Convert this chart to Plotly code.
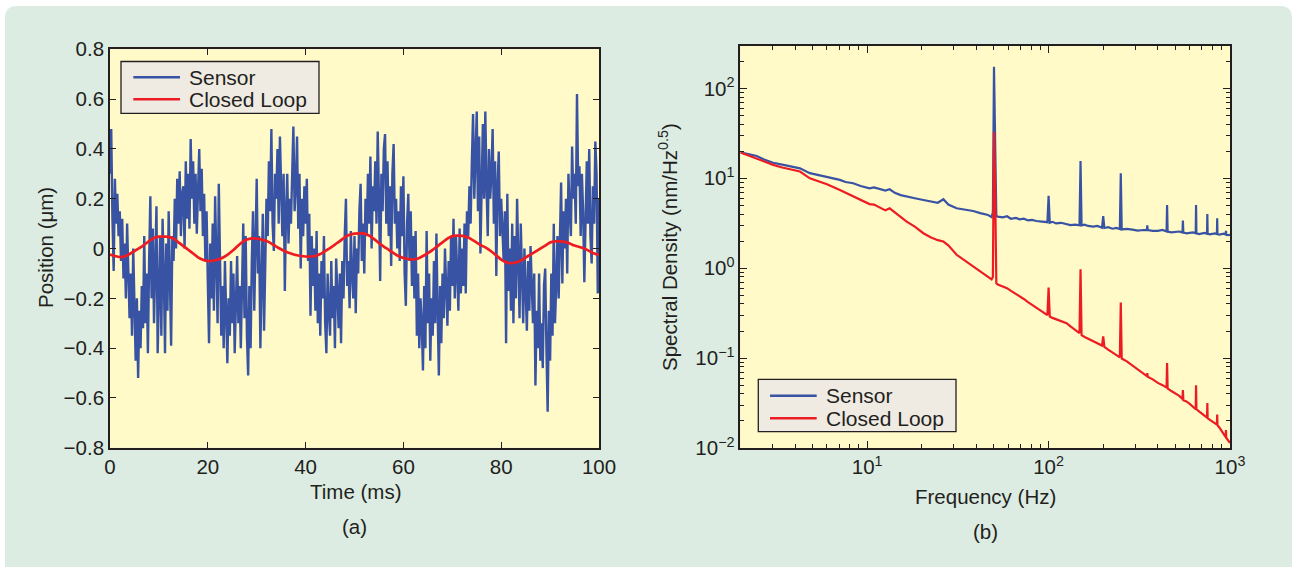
import plotly.graph_objects as go

# ---------------- data: panel (a) time series ----------------
SAMPLE_MS = 0.25
sensor_pos = [
    0.30, 0.48, 0.12, -0.09,   0.28, 0.10, 0.22, 0.05,   0.15, -0.05, 0.12, -0.12,
    0.02, -0.20, 0.10, -0.15,  -0.28, -0.10, -0.35, 0.00, -0.30, -0.45, -0.20, -0.52,
    -0.25, -0.40, -0.15, -0.32, 0.05, -0.30, -0.10, -0.42, -0.05, 0.21, -0.20, 0.08,
    -0.30, -0.05, 0.17, -0.42, -0.15, 0.05, -0.35, 0.12, -0.10, -0.42, 0.02, -0.25,
    0.15, -0.15, -0.39, 0.05,  -0.05, 0.20, 0.00, 0.28,   0.10, 0.31, 0.05, 0.22,
    0.25, 0.00, 0.35, 0.12,    0.30, 0.08, 0.44, 0.20,   0.35, 0.10, 0.30, 0.06,
    0.25, 0.40, 0.15, 0.32,    0.05, 0.22, -0.05, 0.15,  -0.13, -0.38, 0.02, -0.20,
    0.10, -0.25, 0.21, -0.10,  -0.30, 0.26, -0.05, -0.35, -0.15, -0.40, -0.05, -0.25,
    -0.46, -0.20, -0.35, -0.05, -0.30, -0.10, -0.42, -0.22, -0.03, -0.30, -0.15, -0.40,
    -0.20, 0.10, -0.28, 0.05,  -0.35, -0.51, -0.15, -0.40, -0.05, 0.15, -0.25, 0.05,
    0.28, -0.10, 0.05, -0.40,  -0.15, 0.14, -0.33, 0.00,  0.20, 0.05, 0.35, 0.15,
    0.48, 0.10, -0.01, 0.30,   0.20, 0.40, 0.10, 0.45,   0.25, 0.05, 0.30, -0.17,
    0.15, 0.30, 0.02, 0.20,    0.10, 0.35, 0.49, 0.15,   0.25, 0.45, 0.08, 0.30,
    -0.08, 0.20, 0.05, 0.25,   0.10, 0.28, -0.05, 0.14,  -0.27, 0.05, -0.15, 0.00,
    -0.25, 0.07, -0.30, -0.10, -0.35, -0.05, -0.20, 0.05, -0.30, -0.42, -0.10, -0.25,
    -0.35, -0.05, -0.28, -0.15, -0.40, -0.04, -0.22, -0.32, -0.10, -0.38, -0.05, -0.20,
    0.05, 0.20, -0.15, -0.05,  -0.24, 0.07, -0.10, -0.20, 0.05, -0.26, 0.00, -0.10,
    0.15, 0.26, -0.05, 0.10,   -0.10, 0.20, 0.05, 0.30,  0.10, 0.37, 0.00, 0.25,
    0.15, 0.35, 0.10, 0.47,    0.20, -0.13, 0.30, 0.15,  0.40, 0.46, 0.10, 0.35,
    0.05, 0.25, -0.07, 0.30,   0.42, 0.10, 0.20, 0.00,   0.15, -0.05, 0.25, 0.05,
    0.29, -0.10, -0.23, 0.10,  0.22, -0.05, 0.15, -0.15, 0.05, -0.20, 0.07, -0.35,
    -0.10, -0.40, -0.20, -0.30, -0.49, -0.15, -0.40, 0.07, -0.30, -0.10, -0.45, -0.20,
    -0.35, -0.05, -0.30, 0.06, -0.25, -0.51, -0.15, -0.38, -0.10, -0.28, 0.00, -0.20,
    -0.31, -0.05, -0.25, 0.05, -0.15, 0.12, -0.20, 0.05,  -0.10, -0.25, 0.08, -0.18,
    0.00, -0.15, 0.10, -0.18,  0.15, 0.05, 0.25, 0.10,   0.35, 0.54, 0.20, 0.40,
    0.55, 0.15, 0.45, -0.02,   0.30, 0.50, 0.20, 0.55,   0.25, 0.05, 0.40, 0.20,
    0.30, 0.48, 0.10, 0.35,    -0.11, 0.25, 0.39, 0.05,  0.20, 0.10, -0.05, 0.15,
    -0.38, 0.22, -0.17, 0.00,  -0.25, 0.10, -0.30, 0.05, -0.20, 0.20, -0.10, -0.28,
    0.10, -0.15, -0.30, 0.00,  -0.20, -0.33, -0.05, -0.25, 0.01, -0.15, -0.30, -0.10,
    -0.55, -0.25, -0.40, -0.10, -0.45, -0.30, -0.48, -0.15, -0.08, -0.40, -0.655, -0.25,
    -0.45, -0.10, -0.35, 0.10, -0.30, -0.15, 0.05, -0.20,  0.10, 0.265, -0.14, 0.15,
    0.00, 0.20, -0.10, 0.30,   0.15, 0.05, 0.41, 0.20,   0.30, 0.10, 0.62, 0.25,
    0.33, 0.05, 0.30, 0.15,    -0.135, 0.20, 0.35, 0.10, 0.40, 0.05, -0.06, 0.25,
    0.10, 0.43, 0.30, -0.18,   0.20,
]
closed_time_ms = list(range(0, 101))
closed_pos = [
    -0.024, -0.030, -0.034, -0.032, -0.022, -0.010, 0.002, 0.015, 0.030, 0.042,
    0.048, 0.048, 0.047, 0.040, 0.025, 0.010, -0.005, -0.020, -0.035, -0.045,
    -0.050, -0.049, -0.045, -0.037, -0.025, -0.010, 0.008, 0.025, 0.036, 0.041,
    0.040, 0.036, 0.030, 0.020, 0.008, -0.003, -0.013, -0.020, -0.026, -0.030,
    -0.032, -0.032, -0.030, -0.022, -0.010, 0.002, 0.016, 0.030, 0.045, 0.055,
    0.060, 0.061, 0.060, 0.052, 0.038, 0.022, 0.008, -0.005, -0.018, -0.030,
    -0.038, -0.042, -0.044, -0.040, -0.030, -0.018, -0.005, 0.010, 0.025, 0.040,
    0.050, 0.052, 0.051, 0.046, 0.036, 0.024, 0.012, 0.002, -0.012, -0.028,
    -0.044, -0.055, -0.059, -0.056, -0.048, -0.036, -0.024, -0.012, 0.000, 0.012,
    0.024, 0.029, 0.029, 0.027, 0.020, 0.012, 0.006, 0.000, -0.010, -0.020,
    -0.025,
]
sensor_time_ms = [i * SAMPLE_MS for i in range(len(sensor_pos))]

# ---------------- data: panel (b) spectral density ----------------
freq_hz = [
    2.0, 2.2, 2.46, 2.7, 3.03, 3.4, 3.8, 4.26, 4.83, 5.4, 6.0, 7.07, 7.6, 8.37, 9.2,
    10.3, 10.9, 11.8, 12.6, 13.3, 14.2, 15.3, 16.5, 18.3, 20.4, 22.5, 24.5, 26.3, 28.0,
    31.1, 34.5, 38.4, 42.0, 46.4, 48.5, 49.3, 50.0, 50.6, 51.5, 52.5, 56.0, 59.0, 62.0,
    66.0, 69.3, 73.0, 77.0, 81.0, 85.7, 92.0, 98.5, 100.0, 101.5, 105.0, 110.0, 117.0,
    125.6, 132.0, 140.0, 148.0, 150.0, 152.0, 158.0, 165.0, 176.0, 186.0, 197.0, 200.0,
    203.0, 213.0, 225.0, 236.0, 247.0, 250.0, 253.0, 270.0, 290.0, 310.0, 332.0, 348.0,
    350.0, 352.0, 375.0, 400.0, 425.0, 447.0, 450.0, 453.0, 475.0, 500.0, 525.0, 547.0,
    550.0, 553.0, 575.0, 600.0, 625.0, 647.0, 650.0, 653.0, 675.0, 700.0, 725.0, 747.0,
    750.0, 753.0, 775.0, 800.0, 825.0, 847.0, 850.0, 853.0, 875.0, 900.0, 925.0, 947.0,
    950.0, 953.0, 975.0, 1000.0,
]
sensor_psd = [
    19.4, 18.5, 17.7, 16.2, 14.9, 14.2, 13.5, 12.9, 11.4, 10.9, 10.4, 9.6, 9.1, 8.8, 8.2,
    7.74, 7.9, 7.5, 7.3, 7.55, 6.9, 6.5, 6.25, 6.0, 5.74, 5.5, 5.35, 5.85, 5.1,
    4.64, 4.5, 4.33, 4.1, 3.91, 3.7, 4.2, 174.0, 30.0, 3.8, 3.75, 3.68, 3.78, 3.55,
    3.62, 3.5, 3.55, 3.4, 3.45, 3.35, 3.3, 3.25, 6.4, 3.2, 3.28, 3.15, 3.2,
    3.1, 3.02, 3.05, 3.0, 15.6, 3.0, 3.05, 2.95, 2.9, 2.95, 2.82, 3.8,
    2.8, 2.86, 2.75, 2.8, 2.72, 11.4, 2.7, 2.74, 2.68, 2.62, 2.66, 2.65,
    3.0, 2.65, 2.6, 2.6, 2.66, 2.56, 5.05, 2.55, 2.5, 2.52, 2.56, 2.5,
    3.4, 2.5, 2.44, 2.47, 2.5, 2.45, 5.05, 2.45, 2.4, 2.43, 2.47, 2.42,
    4.0, 2.42, 2.38, 2.4, 2.44, 2.4, 3.6, 2.4, 2.36, 2.38, 2.42, 2.37,
    2.6, 2.37, 2.33, 2.35,
]
closed_psd = [
    19.4, 18.0, 16.7, 15.3, 14.1, 13.2, 12.6, 11.9, 10.0, 9.3, 8.6, 7.4, 6.9, 6.25, 5.8,
    5.17, 5.1, 4.75, 4.4, 4.64, 4.2, 3.7, 3.3, 2.9, 2.45, 2.2, 2.05, 1.98, 1.8,
    1.41, 1.22, 1.04, 0.93, 0.81, 0.75, 0.8, 33.0, 12.0, 0.68, 0.66, 0.625, 0.6, 0.56,
    0.52, 0.483, 0.455, 0.42, 0.39, 0.36, 0.33, 0.30, 0.61, 0.29, 0.28, 0.27, 0.255,
    0.245, 0.225, 0.205, 0.19, 0.975, 0.18, 0.172, 0.165, 0.153, 0.146, 0.138, 0.174,
    0.133, 0.124, 0.115, 0.108, 0.102, 0.415, 0.099, 0.092, 0.083, 0.075, 0.068, 0.063,
    0.068, 0.062, 0.058, 0.053, 0.05, 0.047, 0.088, 0.046, 0.043, 0.040, 0.038, 0.035,
    0.044, 0.034, 0.033, 0.031, 0.029, 0.027, 0.050, 0.027, 0.0255, 0.024, 0.023, 0.0218,
    0.0316, 0.0214, 0.0205, 0.0198, 0.019, 0.0182, 0.0235, 0.018, 0.0168, 0.0155, 0.0143, 0.0132,
    0.0158, 0.013, 0.0122, 0.0114,
]

# tick labels
pos_ticks = [0.8, 0.6, 0.4, 0.2, 0, -0.2, -0.4, -0.6, -0.8]
time_ticks = [0, 20, 40, 60, 80, 100]
psd_ticks = [0.01, 0.1, 1, 10, 100]
psd_ticktext = ["10<sup>−2</sup>", "10<sup>−1</sup>", "10<sup>0</sup>", "10<sup>1</sup>", "10<sup>2</sup>"]
freq_ticks = [10, 100, 1000]
freq_ticktext = ["10<sup>1</sup>", "10<sup>2</sup>", "10<sup>3</sup>"]
series_names = ["Sensor", "Closed Loop"]

# ---------------- styling ----------------
W, H = 1297, 567
BLUE = "#3953a4"
RED = "#ed1c24"
TXT = "#231f20"
GREEN = "#ddece2"
YELLOW = "#fffac7"
LEGBG = "#efebe2"
FONT = "Liberation Sans, Arial, sans-serif"
FS = 20.5

def px_x(p):
    return p / W

def px_y(p):
    return 1 - p / H

fig = go.Figure()
fig.add_trace(go.Scatter(x=sensor_time_ms, y=sensor_pos, mode="lines", name=series_names[0],
                         line=dict(color=BLUE, width=2.4), xaxis="x", yaxis="y", showlegend=False))
fig.add_trace(go.Scatter(x=closed_time_ms, y=closed_pos, mode="lines", name=series_names[1],
                         line=dict(color=RED, width=2.7, shape="spline"), xaxis="x", yaxis="y", showlegend=False))
fig.add_trace(go.Scatter(x=freq_hz, y=sensor_psd, mode="lines", name=series_names[0],
                         line=dict(color=BLUE, width=2.2), xaxis="x2", yaxis="y2", showlegend=False))
fig.add_trace(go.Scatter(x=freq_hz, y=closed_psd, mode="lines", name=series_names[1],
                         line=dict(color=RED, width=2.2), xaxis="x2", yaxis="y2", showlegend=False))

axis_common = dict(showline=True, linecolor=TXT, linewidth=1.6, mirror="allticks",
                   ticks="inside", tickcolor=TXT, tickwidth=1.2, showgrid=False, zeroline=False,
                   automargin=False, tickfont=dict(family=FONT, size=FS, color=TXT))

xa_dom = [px_x(110), px_x(599)]
ya_dom = [px_y(447.8), px_y(49.3)]
xb_dom = [px_x(740.4), px_x(1230)]
yb_dom = [px_y(448), px_y(45.7)]

minor_x = [3, 4, 5, 6, 7, 8, 9, 20, 30, 40, 50, 60, 70, 80, 90, 200, 300, 400, 500, 600, 700, 800, 900]
minor_y = [0.02, 0.03, 0.04, 0.05, 0.06, 0.07, 0.08, 0.09, 0.2, 0.3, 0.4, 0.5, 0.6, 0.7, 0.8, 0.9,
           2, 3, 4, 5, 6, 7, 8, 9, 20, 30, 40, 50, 60, 70, 80, 90, 200]

fig.update_layout(
    width=W, height=H, margin=dict(l=0, r=0, t=0, b=0, pad=0, autoexpand=False),
    paper_bgcolor="white", plot_bgcolor="rgba(0,0,0,0)",
    font=dict(family=FONT, size=FS, color=TXT),
    showlegend=False,
    xaxis=dict(domain=xa_dom, range=[0, 100], tickvals=time_ticks, ticklen=6,
               anchor="y", **axis_common),
    yaxis=dict(domain=ya_dom, range=[-0.8, 0.8], tickvals=pos_ticks, ticklen=6,
               anchor="x", **axis_common),
    xaxis2=dict(domain=xb_dom, type="log", range=[0.30103, 3.0], tickvals=freq_ticks,
                ticktext=freq_ticktext, ticklen=7, anchor="y2",
                minor=dict(tickvals=minor_x, ticks="inside", ticklen=4, tickcolor=TXT, tickwidth=1),
                **axis_common),
    yaxis2=dict(domain=yb_dom, type="log", range=[-2.0, 2.475], tickvals=psd_ticks,
                ticktext=psd_ticktext, ticklen=7, anchor="x2",
                minor=dict(tickvals=minor_y, ticks="inside", ticklen=4, tickcolor=TXT, tickwidth=1),
                **axis_common),
)

# background panel (rounded green card) and yellow plot areas
r = 12
x0, x1, y0, y1 = 5, 1292, 6, 580
path = (f"M {px_x(x0 + r)},{px_y(y0)} L {px_x(x1 - r)},{px_y(y0)} "
        f"Q {px_x(x1)},{px_y(y0)} {px_x(x1)},{px_y(y0 + r)} "
        f"L {px_x(x1)},{px_y(y1)} L {px_x(x0)},{px_y(y1)} "
        f"L {px_x(x0)},{px_y(y0 + r)} Q {px_x(x0)},{px_y(y0)} {px_x(x0 + r)},{px_y(y0)} Z")
fig.add_shape(type="path", path=path, xref="paper", yref="paper", layer="below",
              fillcolor=GREEN, line=dict(width=0))
fig.add_shape(type="rect", xref="x domain", yref="y domain", x0=0, x1=1, y0=0, y1=1,
              layer="below", fillcolor=YELLOW, line=dict(width=0))
fig.add_shape(type="rect", xref="x2 domain", yref="y2 domain", x0=0, x1=1, y0=0, y1=1,
              layer="below", fillcolor=YELLOW, line=dict(width=0))

def label(text, x, y, angle=0, size=FS, xanchor="center"):
    fig.add_annotation(text=text, x=px_x(x), y=px_y(y), xref="paper", yref="paper",
                       showarrow=False, textangle=angle, xanchor=xanchor, yanchor="middle",
                       font=dict(family=FONT, size=size, color=TXT))

label("Time (ms)", 355, 491.7)
label("Position (μm)", 45, 248, angle=-90)
label("(a)", 354, 526.7)
label("Frequency (Hz)", 985, 496.5)
label("Spectral Density (nm/Hz<sup>0.5</sup>)", 668, 247, angle=-90)
label("(b)", 985, 531)

# legend boxes (drawn like the reference's MATLAB legends)
def legend_box(bx0, by0, bx1, by1, lx0, lx1, rows, tx):
    fig.add_shape(type="rect", xref="paper", yref="paper",
                  x0=px_x(bx0), x1=px_x(bx1), y0=px_y(by1), y1=px_y(by0),
                  fillcolor=LEGBG, line=dict(color=TXT, width=1.3), layer="above")
    for (name, color), ry in zip(zip(series_names, [BLUE, RED]), rows):
        fig.add_shape(type="line", xref="paper", yref="paper",
                      x0=px_x(lx0), x1=px_x(lx1), y0=px_y(ry), y1=px_y(ry),
                      line=dict(color=color, width=2.6), layer="above")
        label(name, tx, ry, size=21, xanchor="left")

legend_box(121, 61.5, 319, 113.3, 133.3, 180, [77.3, 99.3], 186.5)
legend_box(758.3, 379.3, 956, 431.7, 770, 816.7, [395.7, 418.3], 824)

fig.write_html("out.html", config={"displayModeBar": False},
               post_script="document.body.style.margin='0';document.body.style.overflow='hidden';")
